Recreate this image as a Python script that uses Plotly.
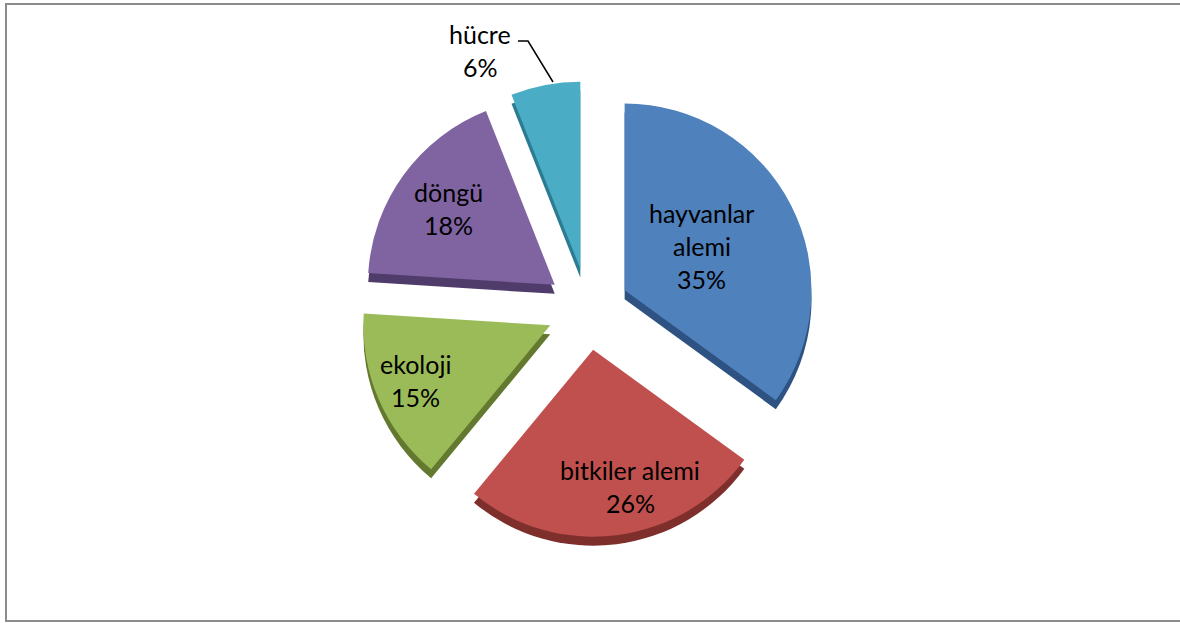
import plotly.graph_objects as go

labels = ["hayvanlar alemi", "bitkiler alemi", "ekoloji", "döngü", "hücre"]
label_lines = [["hayvanlar", "alemi"], ["bitkiler alemi"], ["ekoloji"], ["döngü"], ["hücre"]]
values = [35, 26, 15, 18, 6]
colors = ["#4F81BD", "#C0504D", "#9BBB59", "#8064A2", "#4BACC6"]
side_colors = ["#2E5282", "#7E2F2C", "#62792F", "#503C6A", "#2B7C92"]

# label anchor (center x, first line center y) in pixels
label_pos = [(702, 213), (630, 470), (415, 364), (448, 192), (480, 34)]
line_gap = 33

W, H = 1180, 623
cx, cy, half = 588, 309, 228
pull = 0.22
depth = 9
FONT = "Lato, Open Sans, sans-serif"

def dom(cx, cy):
    return dict(x=[(cx - half) / W, (cx + half) / W],
                y=[1 - (cy + half) / H, 1 - (cy - half) / H])

fig = go.Figure()
# side (depth) layer
fig.add_trace(go.Pie(
    labels=labels, values=values, sort=False, direction="clockwise", rotation=0,
    pull=[pull] * len(values), marker=dict(colors=side_colors, line=dict(width=0)),
    textinfo="none", hoverinfo="skip", showlegend=False,
    domain=dom(cx, cy + depth),
))
# top layer
fig.add_trace(go.Pie(
    labels=labels, values=values, sort=False, direction="clockwise", rotation=0,
    pull=[pull] * len(values), marker=dict(colors=colors, line=dict(width=0)),
    textinfo="none", showlegend=False, domain=dom(cx, cy),
))

for lines, v, (lx, ly) in zip(label_lines, values, label_pos):
    for k, t in enumerate(lines + [f"{v}%"]):
        fig.add_annotation(
            x=lx / W, y=1 - (ly + k * line_gap) / H, xref="paper", yref="paper",
            xanchor="center", yanchor="middle", text=t, showarrow=False,
            font=dict(family=FONT, size=25, color="#000000"),
        )

fig.add_shape(type="path", xref="paper", yref="paper",
              path=f"M {518/W} {1-41/H} L {528/W} {1-41/H} L {553/W} {1-82/H}",
              line=dict(color="#000000", width=1.5))

fig.add_shape(type="rect", xref="paper", yref="paper",
              x0=6 / W, x1=1.05, y0=1 - 621 / H, y1=1 - 4 / H,
              line=dict(color="#8C8C8C", width=2))

fig.update_layout(
    width=W, height=H, margin=dict(l=0, r=0, t=0, b=0),
    paper_bgcolor="#FFFFFF", plot_bgcolor="#FFFFFF",
)

fig.write_html("out.html", post_script="document.body.style.margin='0';",
               config={"displayModeBar": False})
